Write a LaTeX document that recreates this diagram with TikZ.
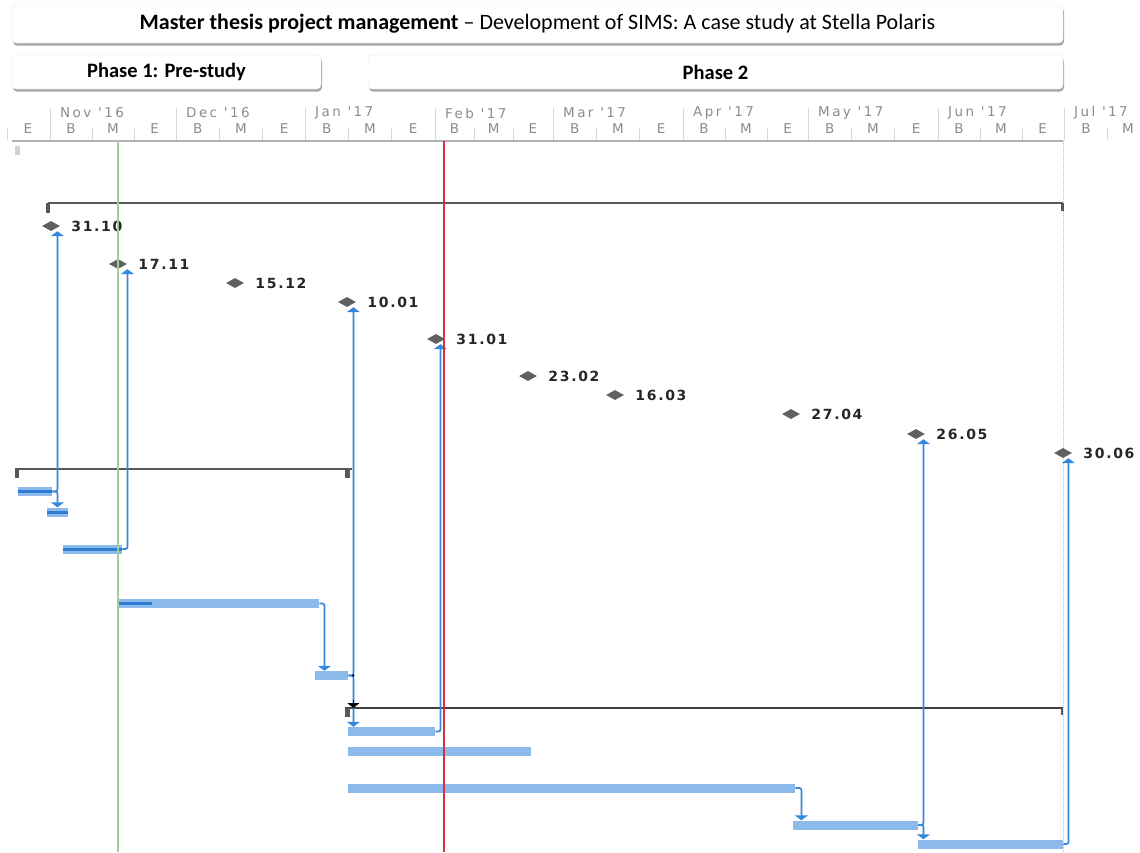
\documentclass[tikz,border=0pt]{standalone}
\usepackage{fontspec}
\setmainfont{Carlito}
\newfontfamily\scalefont[LetterSpace=18]{DejaVu Sans}
\newfontfamily\datefont[LetterSpace=12]{DejaVu Sans}
\usepackage{tikz}
\usetikzlibrary{arrows.meta,shapes.geometric,shadows}
\usetikzlibrary{calc}
\definecolor{barblue}{HTML}{8CBAEB}
\definecolor{doneblue}{HTML}{2F7BD3}
\definecolor{linkblue}{HTML}{3387DD}
\definecolor{milegray}{HTML}{606060}
\definecolor{sumgray}{HTML}{585858}
\definecolor{scalegray}{HTML}{8E8896}
\definecolor{todaygreen}{HTML}{A3CF96}
\definecolor{statusred}{HTML}{D7303A}

\begin{document}
\begin{tikzpicture}[x=1pt,y=-1pt,
  phasebox/.style={draw=gray!20,fill=white,rounded corners=4pt,inner sep=0,
    drop shadow={shadow xshift=1pt,shadow yshift=-2.5pt,opacity=0.35,fill=black}},
  scaletext/.style={text=scalegray,font=\scalefont\fontsize{13.5}{13.5}\selectfont,inner sep=0},
  bar/.style={fill=barblue,inner sep=0,minimum height=9pt,anchor=west},
  done/.style={doneblue,line width=3pt},
  mile/.style={diamond,fill=milegray,inner sep=0,minimum width=18pt,minimum height=10pt},
  date/.style={font=\datefont\bfseries\fontsize{14}{14}\selectfont,text=black!85,inner sep=0},
  link/.style={linkblue,line width=1.7pt,rounded corners=2pt,-{Triangle[width=13pt,length=5pt]}},
  summ/.style={sumgray,line width=2pt}]
\useasboundingbox (0,0) rectangle (1140,852);
\clip (0,0) rectangle (1140,852);
%\draw[help lines,step=50](0,0)grid(1140,852);

% header
\node[phasebox,minimum width=1051pt,minimum height=38pt] (title) at (537.5,24)
  {\fontsize{22}{22}\selectfont\textbf{Master thesis project management} – Development of SIMS: A case study at Stella Polaris};
\node[phasebox,minimum width=309pt,minimum height=34pt] (ph1) at (166.5,72)
  {\fontsize{20.5}{20.5}\selectfont\bfseries Phase 1: Pre-study};
\node[phasebox,minimum width=695pt,minimum height=34pt] (ph2) at (715.5,72)
  {\fontsize{20.5}{20.5}\selectfont\bfseries Phase 2};

% timescale
\foreach \x/\d/\m in {50/30/Nov '16, 176/31/Dec '16, 305/31/Jan '17, 435/28/Feb '17,
    553/31/Mar '17, 683/30/Apr '17, 808/31/May '17, 938/30/Jun '17}{
  \pgfmathsetmacro\w{\d*4.19}
  \draw[scalegray!35] (\x,108) -- (\x,140);
  \draw[scalegray!35] (\x+\w/3,128) -- (\x+\w/3,140) (\x+2*\w/3,128) -- (\x+2*\w/3,140);
  \node[scaletext,anchor=west] at (\x+10,113) {\m};
  \node[scaletext] at (\x+\w/6,129) {B};
  \node[scaletext] at (\x+\w/2,129) {M};
  \node[scaletext] at (\x+5*\w/6,129) {E};
}
\draw[scalegray!35] (7,128) -- (7,140) (1064,108) -- (1064,140) (1107,128) -- (1107,140);
\node[scaletext] at (28,129) {E};
\node[scaletext,anchor=west] at (1074,113) {Jul '17};
\node[scaletext] at (1086,129) {B};
\node[scaletext] at (1128,129) {M};
\draw[gray!60,line width=1.5pt] (12,141) -- (1063,141);
\fill[gray!35] (15,146) rectangle (20,155);
\draw[gray!50,densely dotted,line width=1pt] (1063,141) -- (1063,852);

% summary tasks
\draw[summ] (48,203) -- (1063,203);
\fill[sumgray] (46,203) rectangle (50,213);
\fill[sumgray] (1061,203) rectangle (1064,211);
\draw[summ] (15,469) -- (352,469);
\fill[sumgray] (15,469) rectangle (19,478);
\fill[sumgray] (345,469) rectangle (350,478);
\draw[summ,black!75] (345,708) -- (1063,708);
\fill[sumgray] (345,708) rectangle (350,717);
\fill[sumgray] (1061,708) rectangle (1063,715);
\coordinate (s2) at (348,708);

% milestones
\foreach \n/\x/\y/\t in {1/51/226/31.10, 2/118/264/17.11, 3/235/283/15.12, 4/347/302/10.01,
    5/436/339/31.01, 6/528/376/23.02, 7/615/395/16.03, 8/791/414/27.04, 9/916/434/26.05, 10/1063/453/30.06}
  \node[mile,label={[date,label distance=11pt]east:\t}] (m\n) at (\x,\y) {};

% tasks
\node[bar,minimum width=34pt] (t1) at (18,491.5) {};
\node[bar,minimum width=21pt] (t2) at (47,512) {};
\node[bar,minimum width=59pt] (t3) at (63,549) {};
\node[bar,minimum width=201pt] (t4) at (118,603.5) {};
\node[bar,minimum width=33pt] (t5) at (315,675.5) {};
\node[bar,minimum width=87pt] (t6) at (348,731.5) {};
\node[bar,minimum width=183pt] (t7) at (348,751) {};
\node[bar,minimum width=447pt] (t8) at (348,788) {};
\node[bar,minimum width=125pt] (t9) at (793,825) {};
\node[bar,minimum width=145pt] (t10) at (918,844) {};
\draw[done] (t1.west) -- (t1.east);
\draw[done] (t2.west) -- (t2.east);
\draw[done] (t3.west) -- (t3.east);
\draw[done] (t4.west) -- ++(34,0);

% links
\draw[link] (t1.east) -- ++(5,0) coordinate (k1) -- (k1 |- m1.south);
\draw[link] (t1.east) -- (k1) -- (k1 |- t2.north);
\draw[link] (t3.east) -- ++(5,0) coordinate (k3) -- (k3 |- m2.south);
\draw[link] (t4.east) -- ++(5,0) coordinate (k4) -- (k4 |- t5.north);
\draw[link] (t5.east) -- ++(5,0) coordinate (k5) -- (k5 |- m4.south);
\draw[link] (t5.east) -- (k5) -- (k5 |- t6.north);
\draw[link] (t6.east) -- ++(5,0) coordinate (k6) -- (k6 |- m5.south);
\draw[link] (t8.east) -- ++(6,0) coordinate (k8) -- (k8 |- t9.north);
\draw[link] (t9.east) -- ++(5,0) coordinate (k9) -- (k9 |- m9.south);
\draw[link] (t9.east) -- (k9) -- (k9 |- t10.north);
\draw[link] (t10.east) -- ++(5,0) coordinate (k10) -- (k10 |- m10.south);
\draw[black,line width=1pt,-{Triangle[width=12pt,length=5pt]}] (k5 |- s2) ++(0,-8) -- (k5 |- s2);
\fill[black] (k5) circle (1.3pt);

% status lines
\draw[todaygreen,line width=1.8pt] (118,141) -- (118,852);
\draw[statusred,line width=2pt] (444,141) -- (444,852);
\end{tikzpicture}
\end{document}
